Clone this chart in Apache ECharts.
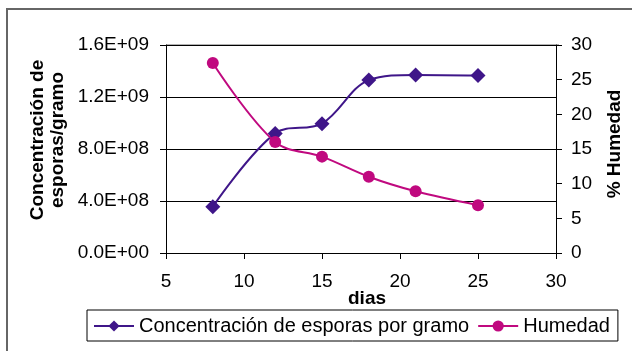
<!DOCTYPE html>
<html>
<head>
<meta charset="utf-8">
<script src="https://cdn.jsdelivr.net/npm/echarts@6/dist/echarts.min.js"></script>
<style>
  html, body { margin: 0; padding: 0; background: #ffffff; }
  #chart { width: 632px; height: 351px; }
</style>
</head>
<body>
<div id="chart"></div>
<script>
// Días de muestreo
const dias = [8, 12, 15, 18, 21, 25];
// Concentración de esporas por gramo
const concentracion = [3.56e8, 9.2e8, 9.95e8, 1.33e9, 1.37e9, 1.365e9];
// Humedad (%)
const humedad = [27.4, 16.0, 13.9, 11.0, 8.9, 6.9];

const xTicks = [5, 10, 15, 20, 25, 30];

const FONT = '"Liberation Sans", Arial, sans-serif';
const PURPLE = '#3f1689';
const MAGENTA = '#c0097f';

const chart = echarts.init(document.getElementById('chart'), null, { renderer: 'canvas' });

function sci(v) {
  if (v === 0) return '0.0E+00';
  const e = Math.floor(Math.log10(v));
  const m = v / Math.pow(10, e);
  return m.toFixed(1) + 'E+' + String(e).padStart(2, '0');
}

chart.setOption({
  animation: false,
  backgroundColor: '#ffffff',
  graphic: [{
    type: 'rect',
    shape: { x: 7, y: 9, width: 700, height: 400 },
    style: { fill: 'none', stroke: '#666666', lineWidth: 2 },
    silent: true
  }, {
    // top border of the plot area
    type: 'line',
    shape: { x1: 166, y1: 45, x2: 559, y2: 45 },
    style: { stroke: '#999999', lineWidth: 1.5 },
    silent: true
  }],
  grid: { left: 166, right: 73, top: 45, bottom: 98 },
  legend: {
    left: 87, top: 310,
    padding: [6, 8, 5, 6],
    itemGap: 8,
    itemWidth: 40, itemHeight: 14,
    borderColor: '#000000', borderWidth: 1,
    textStyle: { fontFamily: FONT, fontSize: 20, color: '#000' },
    data: ['Concentración de esporas por gramo', 'Humedad']
  },
  xAxis: {
    type: 'value', min: 5, max: 30, interval: 5,
    name: 'dias', nameLocation: 'middle', nameGap: 36, nameMoveOverlap: false,
    nameTextStyle: { fontFamily: FONT, fontSize: 19, fontWeight: 'bold', color: '#000', padding: [0, 0, 0, 12] },
    axisLine: { lineStyle: { color: '#000', width: 1 } },
    axisTick: { show: true, length: 6, lineStyle: { color: '#000' } },
    axisLabel: { fontFamily: FONT, fontSize: 19, color: '#000', margin: 19,
      formatter: v => xTicks.includes(v) ? String(v) : '' },
    splitLine: { show: false }
  },
  yAxis: [{
    type: 'value', min: 0, max: 1.6e9, interval: 4e8, position: 'left',
    name: 'Concentración de\nesporas/gramo', nameLocation: 'middle', nameGap: 98, nameMoveOverlap: false,
    nameTextStyle: { fontFamily: FONT, fontSize: 19, fontWeight: 'bold', color: '#000', lineHeight: 20, padding: [0, 0, 0, 18] },
    axisLine: { show: true, lineStyle: { color: '#000', width: 1 } },
    axisTick: { show: true, length: 6, lineStyle: { color: '#000' } },
    axisLabel: { fontFamily: FONT, fontSize: 19, color: '#000', margin: 17, formatter: sci },
    splitLine: { show: true, lineStyle: { color: '#000', width: 1 } }
  }, {
    type: 'value', min: 0, max: 30, interval: 5, position: 'right',
    name: '% Humedad', nameLocation: 'middle', nameGap: 49, nameMoveOverlap: false,
    nameTextStyle: { fontFamily: FONT, fontSize: 19, fontWeight: 'bold', color: '#000', padding: [0, 0, 0, 10] },
    axisLine: { show: true, lineStyle: { color: '#000', width: 1 } },
    axisTick: { show: true, length: 6, lineStyle: { color: '#000' } },
    axisLabel: { fontFamily: FONT, fontSize: 19, color: '#000', margin: 15 },
    splitLine: { show: false }
  }],
  series: [{
    name: 'Concentración de esporas por gramo',
    type: 'line', yAxisIndex: 0,
    data: dias.map((d, i) => [d, concentracion[i]]),
    smooth: 0.35,
    symbol: 'diamond', symbolSize: 15,
    lineStyle: { color: PURPLE, width: 2 },
    itemStyle: { color: PURPLE },
    z: 3
  }, {
    name: 'Humedad',
    type: 'line', yAxisIndex: 1,
    data: dias.map((d, i) => [d, humedad[i]]),
    smooth: 0.35,
    symbol: 'circle', symbolSize: 12,
    lineStyle: { color: MAGENTA, width: 2 },
    itemStyle: { color: MAGENTA },
    z: 3
  }]
});
</script>
</body>
</html>
